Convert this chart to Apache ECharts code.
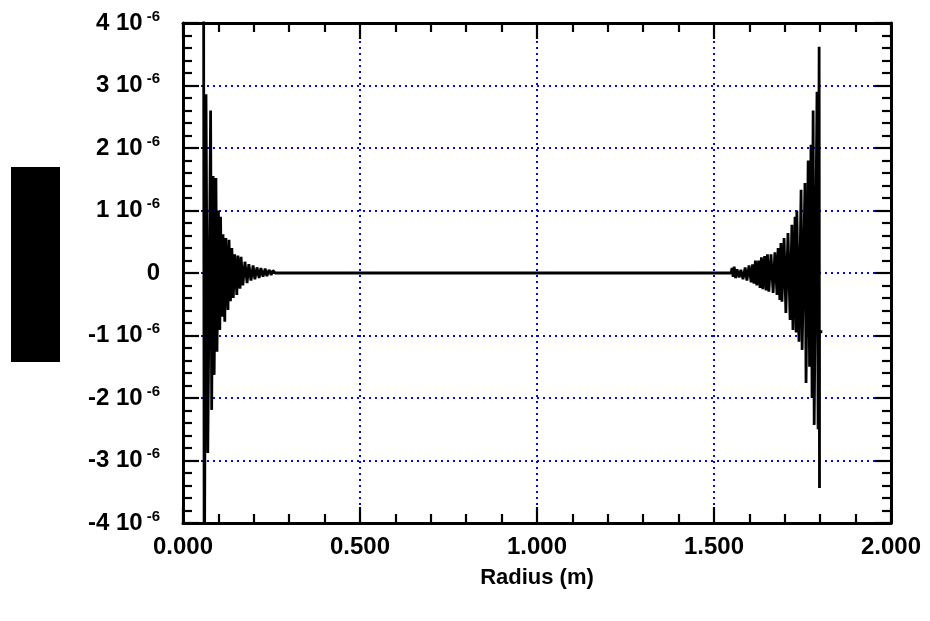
<!DOCTYPE html>
<html>
<head>
<meta charset="utf-8">
<script src="https://cdn.jsdelivr.net/npm/echarts@6/dist/echarts.min.js"></script>
<style>
  html, body { margin: 0; padding: 0; background: #fff; }
  #chart { width: 930px; height: 621px; }
</style>
</head>
<body>
<div id="chart"></div>
<script>
// Radial profile; amplitudes are in units of 10^-6.
const xTicks = [0, 0.5, 1.0, 1.5, 2.0];
const yTicks = [-4, -3, -2, -1, 0, 1, 2, 3, 4];

// Inner edge ringing (radius in m)
const innerRadius = [
  0.058, 0.060, 0.065, 0.070, 0.078, 0.081, 0.085, 0.088, 0.093, 0.096,
  0.100, 0.104, 0.106, 0.110, 0.113, 0.118, 0.121, 0.127, 0.130, 0.134,
  0.138, 0.142, 0.146, 0.152, 0.155, 0.161, 0.164, 0.169, 0.175, 0.181,
  0.186, 0.192, 0.198, 0.203, 0.209, 0.215, 0.220, 0.226, 0.232, 0.237,
  0.243, 0.249, 0.254, 0.260
];
const innerValue = [
  6.0, -6.0, 2.86, -2.88, 2.60, -2.19, 1.55, -1.63, 1.52, -1.26,
  1.00, -0.91, 0.90, -0.70, 0.62, -0.78, 0.56, -0.59, 0.53, -0.45,
  0.40, -0.40, 0.30, -0.35, 0.28, -0.25, 0.26, -0.20, 0.18, -0.16,
  0.14, -0.12, 0.12, -0.10, 0.09, -0.08, 0.08, -0.06, 0.07, -0.05,
  0.05, -0.03, 0.04, 0.00
];

// Outer edge ringing (radius in m)
const outerRadius = [
  1.548, 1.551, 1.554, 1.557, 1.561, 1.565, 1.571, 1.576, 1.582, 1.588,
  1.593, 1.599, 1.605, 1.609, 1.613, 1.617, 1.621, 1.626, 1.630, 1.634,
  1.638, 1.643, 1.647, 1.651, 1.655, 1.661, 1.667, 1.672, 1.678, 1.681,
  1.686, 1.689, 1.692, 1.698, 1.703, 1.709, 1.715, 1.720, 1.723, 1.729,
  1.732, 1.734, 1.740, 1.746, 1.749, 1.757, 1.760, 1.766, 1.770, 1.774,
  1.777, 1.780, 1.783, 1.788, 1.791, 1.794, 1.797, 1.798, 1.798, 1.806
];
const outerValue = [
  0.00, 0.08, -0.06, 0.10, -0.08, 0.06, -0.07, 0.05, -0.10, 0.09,
  -0.12, 0.12, -0.15, 0.14, -0.17, 0.20, -0.20, 0.20, -0.24, 0.25,
  -0.26, 0.27, -0.28, 0.30, -0.30, 0.30, -0.32, 0.33, -0.35, 0.40,
  -0.43, 0.48, -0.46, 0.56, -0.64, 0.64, -0.75, 0.77, -0.91, 0.90,
  -0.95, 1.00, -1.10, 1.33, -1.23, 1.44, -1.76, 1.80, -1.50, 2.05,
  -2.00, 2.60, -2.43, -2.43, 2.90, -2.50, 3.62, -3.44, -0.94, -0.94
];

const profile = [];
innerRadius.forEach((r, i) => profile.push([r, innerValue[i]]));
outerRadius.forEach((r, i) => profile.push([r, outerValue[i]]));

const FONT = 'Liberation Sans';
const axisLineStyle = { color: '#000', width: 3 };
const tickStyle = { color: '#000', width: 2.2 };
const gridStyle = { color: '#0808d8', width: 2, type: [2, 4] };

function yLabel(v) {
  if (v === 0) return '{n|0}';
  return '{n|' + v + ' 10}{s|-6}';
}

const chart = echarts.init(document.getElementById('chart'), null, { renderer: 'canvas' });
chart.setOption({
  animation: false,
  backgroundColor: '#fff',
  grid: { left: 183, right: 39, top: 23, bottom: 98, containLabel: false },
  graphic: [{
    type: 'rect', left: 11, top: 167,
    shape: { width: 49, height: 195 },
    style: { fill: '#000' }
  }],
  xAxis: [{
    type: 'value', position: 'bottom',
    min: xTicks[0], max: xTicks[xTicks.length - 1], interval: 0.5,
    axisLine: { show: true, onZero: false, lineStyle: axisLineStyle },
    axisTick: { show: true, inside: true, length: 16, lineStyle: tickStyle },
    minorTick: { show: true, splitNumber: 5, length: 9, lineStyle: tickStyle },
    splitLine: { show: true, lineStyle: gridStyle },
    axisLabel: {
      margin: 12, color: '#000', fontFamily: FONT, fontWeight: 'bold', fontSize: 24,
      formatter: v => v.toFixed(3)
    },
    name: 'Radius (m)', nameLocation: 'middle', nameGap: 44,
    nameTextStyle: { color: '#000', fontFamily: FONT, fontWeight: 'bold', fontSize: 22 }
  }, {
    type: 'value', position: 'top',
    min: xTicks[0], max: xTicks[xTicks.length - 1], interval: 0.5,
    axisLine: { show: true, onZero: false, lineStyle: axisLineStyle },
    axisTick: { show: true, inside: true, length: 16, lineStyle: tickStyle },
    minorTick: { show: true, splitNumber: 5, length: 9, lineStyle: tickStyle },
    splitLine: { show: false }, axisLabel: { show: false }
  }],
  yAxis: [{
    type: 'value', position: 'left',
    min: yTicks[0], max: yTicks[yTicks.length - 1], interval: 1,
    axisLine: { show: true, onZero: false, lineStyle: axisLineStyle },
    axisTick: { show: true, inside: true, length: 16, lineStyle: tickStyle },
    minorTick: { show: true, splitNumber: 5, length: 9, lineStyle: tickStyle },
    splitLine: { show: true, lineStyle: gridStyle },
    axisLabel: {
      margin: 23, formatter: yLabel,
      rich: {
        n: { color: '#000', fontFamily: FONT, fontWeight: 'bold', fontSize: 24, lineHeight: 28 },
        s: { color: '#000', fontFamily: FONT, fontWeight: 'bold', fontSize: 15, verticalAlign: 'top', padding: [0, 0, 0, 4] }
      }
    }
  }, {
    type: 'value', position: 'right',
    min: yTicks[0], max: yTicks[yTicks.length - 1], interval: 1,
    axisLine: { show: true, onZero: false, lineStyle: axisLineStyle },
    axisTick: { show: true, inside: true, length: 16, lineStyle: tickStyle },
    minorTick: { show: true, splitNumber: 5, length: 9, lineStyle: tickStyle },
    splitLine: { show: false }, axisLabel: { show: false }
  }],
  series: [{
    type: 'line',
    data: profile,
    showSymbol: false,
    clip: true,
    lineStyle: { color: '#000', width: 2.8 },
    z: 3
  }]
});
</script>
</body>
</html>
